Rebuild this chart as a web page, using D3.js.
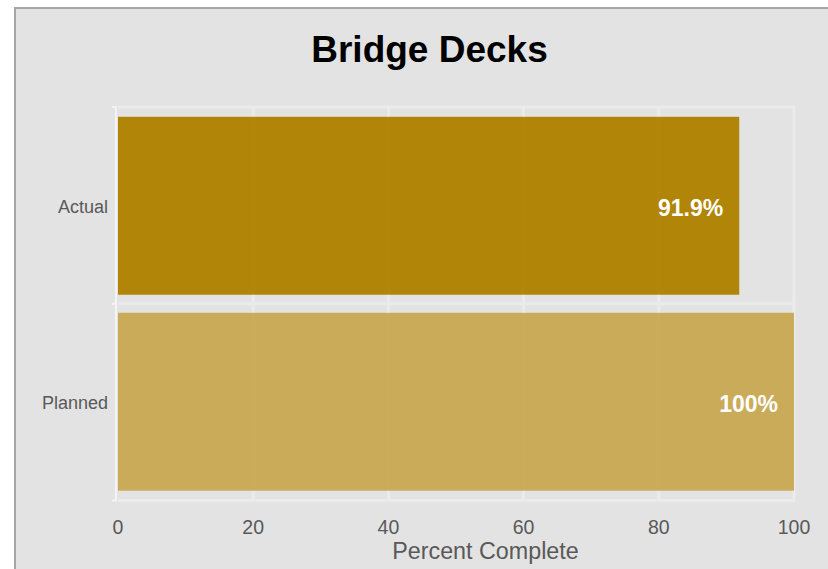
<!DOCTYPE html>
<html>
<head>
<meta charset="utf-8">
<script src="https://cdn.jsdelivr.net/npm/d3@7"></script>
<style>
  html, body { margin: 0; padding: 0; background: #ffffff; }
  svg { display: block; font-family: "Liberation Sans", Arial, sans-serif; }
</style>
</head>
<body>
<svg id="chart" width="828" height="569"></svg>
<script>
// Chart data
const categories = ["Actual", "Planned"];
const percentComplete = [91.9, 100];
const valueLabels = ["91.9%", "100%"];
const xTicks = [0, 20, 40, 60, 80, 100];
const barColors = ["#b08200", "#c9a956"];
const chartTitle = "Bridge Decks";
const xAxisTitle = "Percent Complete";

(function () {
const W = 828, H = 569;
const svg = d3.select("#chart");

// Panel background with grey top and left border
svg.append("rect").attr("x", 15).attr("y", 8).attr("width", W - 15).attr("height", H - 8)
  .attr("fill", "#e3e3e3");
svg.append("line").attr("x1", 14).attr("x2", W).attr("y1", 8).attr("y2", 8)
  .attr("stroke", "#a6a6a6").attr("stroke-width", 2);
svg.append("line").attr("x1", 15).attr("x2", 15).attr("y1", 7).attr("y2", H)
  .attr("stroke", "#a6a6a6").attr("stroke-width", 2);

// Scales
const x = d3.scaleLinear().domain([0, 100]).range([118, 794]);
const y = d3.scaleBand().domain(categories).range([107, 500.5])
  .paddingInner(0.092).paddingOuter(0.05);

const plotTop = y.range()[0], plotBottom = y.range()[1];
const halfGap = (y.step() - y.bandwidth()) / 2;
const boundaries = categories.map(c => y(c) - halfGap).concat([plotBottom]);
boundaries[0] = plotTop;

// Gridlines
const grid = svg.append("g");
grid.selectAll("line.v").data(xTicks.filter(t => t > 0)).join("line")
  .attr("class", "v")
  .attr("x1", d => x(d)).attr("x2", d => x(d))
  .attr("y1", plotTop).attr("y2", plotBottom)
  .attr("stroke", "#ebebeb").attr("stroke-width", 3);
grid.selectAll("line.h").data(boundaries).join("line")
  .attr("class", "h")
  .attr("x1", x(0)).attr("x2", x(100) + 1.5)
  .attr("y1", d => d).attr("y2", d => d)
  .attr("stroke", "#ebebeb").attr("stroke-width", 3);

// Bars
svg.append("g").selectAll("rect").data(categories).join("rect")
  .attr("x", x(0))
  .attr("y", d => y(d))
  .attr("width", (d, i) => x(percentComplete[i]) - x(0))
  .attr("height", y.bandwidth())
  .attr("fill", (d, i) => barColors[i])
  .attr("fill-opacity", 0.97);

// Value labels inside bar ends
svg.append("g").selectAll("text").data(categories).join("text")
  .attr("x", (d, i) => x(percentComplete[i]) - 16)
  .attr("y", d => y(d) + y.bandwidth() / 2 + 10.5)
  .attr("text-anchor", "end")
  .attr("fill", "#ffffff")
  .attr("font-weight", "bold")
  .attr("font-size", 23)
  .text((d, i) => valueLabels[i]);

// Left axis line with boundary ticks
const axisG = svg.append("g");
axisG.append("line").attr("x1", 116).attr("x2", 116).attr("y1", plotTop).attr("y2", plotBottom)
  .attr("stroke", "#f4f4f4").attr("stroke-width", 2);
axisG.selectAll("line.t").data(boundaries).join("line")
  .attr("class", "t")
  .attr("x1", 112).attr("x2", 117)
  .attr("y1", d => d).attr("y2", d => d)
  .attr("stroke", "#f4f4f4").attr("stroke-width", 2);

// Category labels
svg.append("g").selectAll("text").data(categories).join("text")
  .attr("x", 108)
  .attr("y", d => y(d) + y.bandwidth() / 2 + 7.5)
  .attr("text-anchor", "end")
  .attr("fill", "#595959")
  .attr("font-size", 18)
  .text(d => d);

// X tick labels
svg.append("g").selectAll("text").data(xTicks).join("text")
  .attr("x", d => x(d))
  .attr("y", 534)
  .attr("text-anchor", "middle")
  .attr("fill", "#595959")
  .attr("font-size", 19.5)
  .text(d => d);

// Axis title
svg.append("text")
  .attr("x", 485.5).attr("y", 559)
  .attr("text-anchor", "middle")
  .attr("fill", "#595959")
  .attr("font-size", 23.3)
  .text(xAxisTitle);

// Chart title
svg.append("text")
  .attr("x", 429.5).attr("y", 61.5)
  .attr("text-anchor", "middle")
  .attr("fill", "#000000")
  .attr("font-weight", "bold")
  .attr("font-size", 37)
  .text(chartTitle);
})();
</script>
</body>
</html>
